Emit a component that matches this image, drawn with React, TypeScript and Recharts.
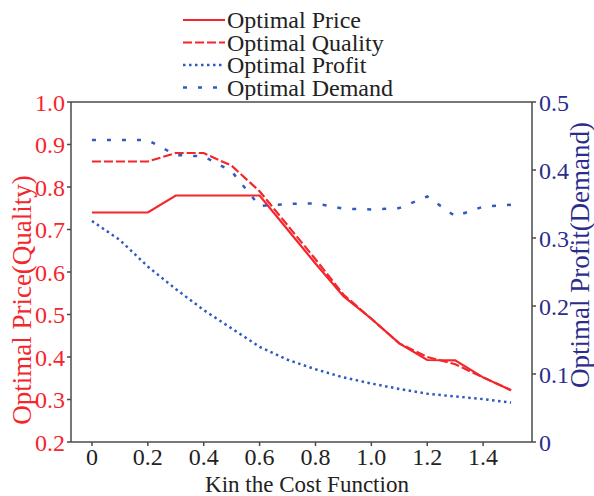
import React from 'react';
import {
  LineChart,
  Line,
  XAxis,
  YAxis,
  ReferenceLine,
} from 'recharts';

// ============================================================================
// Data
// ============================================================================

const kValues = [0, 0.1, 0.2, 0.3, 0.4, 0.5, 0.6, 0.7, 0.8, 0.9, 1.0, 1.1, 1.2, 1.3, 1.4, 1.5];
const optimalPrice = [0.74, 0.74, 0.74, 0.78, 0.78, 0.78, 0.78, 0.7, 0.62, 0.543, 0.49, 0.432, 0.393, 0.392, 0.352, 0.322];
const optimalQuality = [0.86, 0.86, 0.86, 0.88, 0.88, 0.85, 0.79, 0.71, 0.63, 0.547, 0.49, 0.432, 0.4, 0.383, 0.352, 0.322];
const optimalProfit = [0.325, 0.297, 0.258, 0.225, 0.194, 0.167, 0.14, 0.121, 0.107, 0.095, 0.086, 0.078, 0.071, 0.067, 0.063, 0.058];
const optimalDemand = [0.444, 0.444, 0.444, 0.422, 0.42, 0.398, 0.347, 0.35, 0.351, 0.343, 0.342, 0.344, 0.361, 0.332, 0.346, 0.349];

const xTicks = [0, 0.2, 0.4, 0.6, 0.8, 1.0, 1.2, 1.4];
const leftTicks = [0.2, 0.3, 0.4, 0.5, 0.6, 0.7, 0.8, 0.9, 1.0];
const rightTicks = [0, 0.1, 0.2, 0.3, 0.4, 0.5];

// ============================================================================
// Constants
// ============================================================================

const RED = '#f5262b';
const BLUE = '#2d5bbf';
const NAVY = '#2b2d8c';
const AXIS = '#4a4a4a';
const FONT = '"Liberation Serif", "Times New Roman", serif';
const TICK_FS = 24;
const TITLE_FS = 27;

const series = [
  { key: 'price', name: 'Optimal Price', color: RED, dash: undefined, width: 2.2, axis: 'left' },
  { key: 'quality', name: 'Optimal Quality', color: RED, dash: '9 3', width: 2.2, axis: 'left' },
  { key: 'profit', name: 'Optimal Profit', color: BLUE, dash: '2.5 3.5', width: 2.5, axis: 'right' },
  { key: 'demand', name: 'Optimal Demand', color: BLUE, dash: '4 11', width: 2.5, axis: 'right' },
];

const chartData = kValues.map((k, i) => ({
  k,
  price: optimalPrice[i],
  quality: optimalQuality[i],
  profit: optimalProfit[i],
  demand: optimalDemand[i],
}));

// ============================================================================
// Component
// ============================================================================

const LegendBox = () => (
  <svg
    width={250}
    height={100}
    style={{ position: 'absolute', left: 183, top: 0 }}
  >
    {series.map((s, i) => {
      const y = 20 + i * 22.5;
      return (
        <g key={s.key}>
          <line
            x1={0}
            x2={42}
            y1={y}
            y2={y}
            stroke={s.color}
            strokeWidth={s.width}
            strokeDasharray={s.dash}
          />
          <text
            x={44}
            y={y}
            dominantBaseline="central"
            fontFamily={FONT}
            fontSize={24}
            fill="#222"
          >
            {s.name}
          </text>
        </g>
      );
    })}
  </svg>
);

const formatX = (v: number) => (v === 0 ? '0' : v.toFixed(1));
const formatRight = (v: number) => (v === 0 ? '0' : v.toFixed(1));

export default function App() {
  return (
    <div style={{ position: 'absolute', left: 0, top: 0, width: 594, height: 496, background: '#fff' }}>
      <LineChart
        width={594}
        height={496}
        data={chartData}
        margin={{ top: 102, right: 0, bottom: 0, left: 0 }}
      >
        <XAxis
          dataKey="k"
          type="number"
          domain={[-0.075, 1.575]}
          ticks={xTicks}
          interval={0}
          tickFormatter={formatX}
          height={54}
          tickSize={4}
          tickMargin={2}
          stroke={AXIS}
          strokeWidth={1.5}
          tick={{ fontSize: TICK_FS, fontFamily: FONT, fill: '#222' }}
          label={() => (
            <text
              x={307}
              y={484}
              textAnchor="middle"
              dominantBaseline="central"
              fontFamily={FONT}
              fontSize={23}
              fill="#222"
            >
              Kin the Cost Function
            </text>
          )}
        />
        <YAxis
          yAxisId="left"
          orientation="left"
          domain={[0.2, 1.0]}
          ticks={leftTicks}
          interval={0}
          tickFormatter={(v: number) => v.toFixed(1)}
          width={71}
          tickSize={4}
          tickMargin={2}
          stroke={AXIS}
          strokeWidth={1.5}
          tick={{ fontSize: TICK_FS, fontFamily: FONT, fill: RED }}
          label={() => (
            <text
              x={22}
              y={300}
              transform="rotate(-90, 22, 300)"
              textAnchor="middle"
              dominantBaseline="central"
              fontFamily={FONT}
              fontSize={TITLE_FS}
              fill={RED}
            >
              Optimal Price(Quality)
            </text>
          )}
        />
        <YAxis
          yAxisId="right"
          orientation="right"
          domain={[0, 0.5]}
          ticks={rightTicks}
          interval={0}
          tickFormatter={formatRight}
          width={62}
          tickSize={4}
          tickMargin={3}
          stroke={AXIS}
          strokeWidth={1.5}
          tick={{ fontSize: TICK_FS, fontFamily: FONT, fill: NAVY }}
          label={() => (
            <text
              x={580}
              y={255}
              transform="rotate(-90, 580, 255)"
              textAnchor="middle"
              dominantBaseline="central"
              fontFamily={FONT}
              fontSize={TITLE_FS}
              fill={NAVY}
            >
              Optimal Profit(Demand)
            </text>
          )}
        />
        <ReferenceLine yAxisId="left" y={1.0} stroke={AXIS} strokeWidth={1.5} />
        {series.map((s) => (
          <Line
            key={s.key}
            yAxisId={s.axis}
            dataKey={s.key}
            name={s.name}
            type="linear"
            stroke={s.color}
            strokeWidth={s.width}
            strokeDasharray={s.dash}
            dot={false}
            activeDot={false}
            isAnimationActive={false}
          />
        ))}
      </LineChart>
      <LegendBox />
    </div>
  );
}
